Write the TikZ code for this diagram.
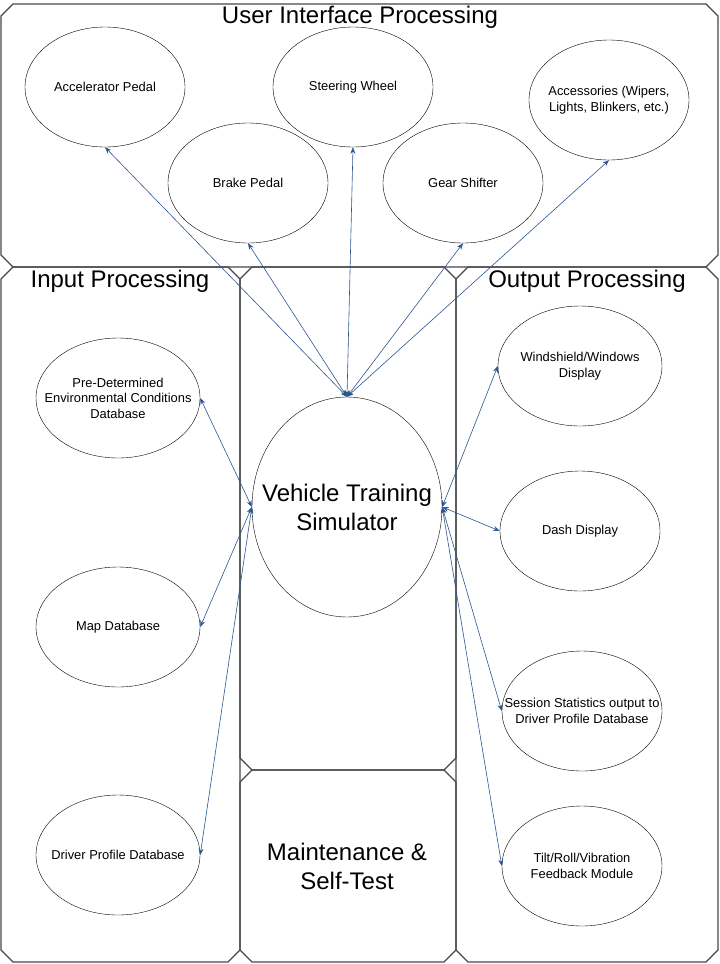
\documentclass[tikz,border=0pt]{standalone}
\usepackage{fontspec}
\setmainfont{Liberation Sans}
\usetikzlibrary{shapes.geometric, arrows.meta}
\definecolor{linkblue}{RGB}{45,85,145}
\tikzset{
	panelline/.style={draw=black!72, line width=1.2pt},
	box/.style={ellipse, draw, thin, inner sep=0pt, minimum width=160pt, minimum height=120pt},
	boxtext/.style={align=center, inner sep=0pt, font=\fontsize{12.9}{15.5}\selectfont},
	bigtext/.style={align=center, inner sep=0pt, font=\fontsize{24}{29}\selectfont},
	link/.style={<->, >={Stealth[length=6.5pt,width=5pt]}, draw=linkblue, line width=0.6pt}
}
\newcommand{\panel}[4]{\draw[panelline] (#1+12,#2) -- (#3-12,#2) -- (#3,#2+12) -- (#3,#4-12) -- (#3-12,#4) -- (#1+12,#4) -- (#1,#4-12) -- (#1,#2+12) -- cycle;}
\begin{document}
\begin{tikzpicture}[x=1pt,y=-1pt]
	\useasboundingbox (0,0) rectangle (720,964);
	
	% panels
	\panel{1}{4}{718}{267}
	\panel{1}{267}{240}{962}
	\panel{240}{267}{456}{770}
	\panel{240}{770}{456}{962}
	\panel{456}{267}{718}{962}
	
	\node[bigtext](uiTitle) at (360,17){User Interface Processing};
	\node[bigtext](inTitle) at (120,281){Input Processing};
	\node[bigtext](outTitle) at (587,281){Output Processing};
	\node[bigtext](maint) at (347,866){Maintenance \&\\Self-Test};
	
	% user interface
	\node[box](acc) at (105,87){};
	\node[boxtext](accT) at (acc){Accelerator Pedal};
	\node[box](steer) at (353,87){};
	\node[boxtext](steerT) at (steer){Steering Wheel};
	\node[box](extra) at (609,100){};
	\node[boxtext](extraT) at (extra){Accessories (Wipers,\\Lights, Blinkers, etc.)};
	\node[box](brake) at (248,183){};
	\node[boxtext](brakeT) at (brake){Brake Pedal};
	\node[box](gear) at (463,183){};
	\node[boxtext](gearT) at (gear){Gear Shifter};
	
	% simulator
	\node[ellipse, draw, thin, minimum width=190pt, minimum height=220pt](veh) at (347,507){};
	\node[bigtext](vehT) at (veh){Vehicle Training\\Simulator};
	
	% input
	\node[box, minimum width=164pt](env) at (118,398){};
	\node[boxtext](envT) at (env){Pre-Determined\\Environmental Conditions\\Database};
	\node[box, minimum width=164pt](map) at (118,627){};
	\node[boxtext](mapT) at (map){Map Database};
	\node[box, minimum width=164pt](drv) at (118,855){};
	\node[boxtext](drvT) at (drv){Driver Profile Database};
	
	% output
	\node[box, minimum width=164pt](wind) at (580,366){};
	\node[boxtext](windT) at (wind){Windshield/Windows\\Display};
	\node[box](dash) at (580,531){};
	\node[boxtext](dashT) at (dash){Dash Display};
	\node[box](stats) at (582,711){};
	\node[boxtext](statsT) at (stats){Session Statistics output to\\Driver Profile Database};
	\node[box](tilt) at (582,866){};
	\node[boxtext](tiltT) at (tilt){Tilt/Roll/Vibration\\Feedback Module};
	
	\draw[link] (veh.north) -- (acc.south);
	\draw[link] (veh.north) -- (brake.south);
	\draw[link] (veh.north) -- (steer.south);
	\draw[link] (veh.north) -- (gear.south);
	\draw[link] (veh.north) -- (extra.south);
	
	\draw[link] (veh.west) -- (env.east);
	\draw[link] (veh.west) -- (map.east);
	\draw[link] (veh.west) -- (drv.east);
	
	\draw[link] (veh.east) -- (wind.west);
	\draw[link] (veh.east) -- (dash.west);
	\draw[link] (veh.east) -- (stats.west);
	\draw[link] (veh.east) -- (tilt.west);
\end{tikzpicture}
\end{document}
